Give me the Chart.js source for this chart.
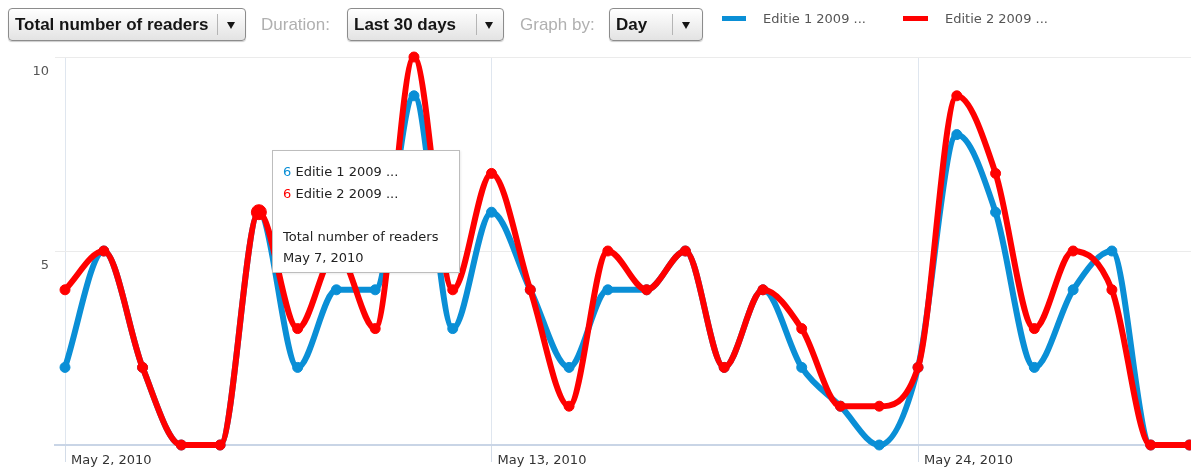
<!DOCTYPE html>
<html lang="en">
<head>
<meta charset="UTF-8" />
<title>Total number of readers</title>
<script src="https://cdn.jsdelivr.net/npm/chart.js@4"></script>
<style>
  html, body { margin: 0; padding: 0; background: #fff; }
  #wrap { position: relative; width: 1191px; height: 468px; overflow: hidden; }
  #chart { position: absolute; left: 0; top: 0; }
  .drop { position: absolute; top: 8px; height: 31px; border: 1px solid #8c8c8c; border-radius: 4px;
          background: linear-gradient(#ffffff, #e3e3e3); box-shadow: 0 1px 1px rgba(0,0,0,0.2);
          font: bold 17px "Liberation Sans", Arial, sans-serif; color: #151515; line-height: 31px; }
  .drop span { position: absolute; left: 6px; top: 0; }
  .drop .sep { position: absolute; top: 5px; width: 1px; height: 21px; background: #b5b5b5; }
  .drop .arr { position: absolute; top: 13px; width: 0; height: 0; border-left: 4.5px solid transparent;
               border-right: 4.5px solid transparent; border-top: 7px solid #151515; }
  .lbl { position: absolute; top: 8px; font: 17px "Liberation Sans", Arial, sans-serif; line-height: 33px; color: #b0b0b0; }
  .sw { position: absolute; top: 16px; height: 5px; }
  .lg { position: absolute; top: 10px; font: 13px "DejaVu Sans", sans-serif; line-height: 18px; color: #555; white-space: nowrap; }
  #tip { position: absolute; left: 272px; top: 150px; width: 176px; height: 111px; padding: 10px 0 0 10px;
         border: 1px solid #bdbdbd; background: #fff; font: 13px "DejaVu Sans", sans-serif; color: #222;
         line-height: 21.5px; white-space: nowrap; box-shadow: 1px 1px 2px rgba(0,0,0,0.08); }
</style>
</head>
<body>
<div id="wrap">
  <canvas id="chart" width="1191" height="468"></canvas>

  <div class="drop" style="left:8px; width:236px;"><span>Total number of readers</span><div class="sep" style="left:208px"></div><div class="arr" style="left:218px"></div></div>
  <div class="lbl" style="left:261px">Duration:</div>
  <div class="drop" style="left:347px; width:155px;"><span>Last 30 days</span><div class="sep" style="left:128px"></div><div class="arr" style="left:137px"></div></div>
  <div class="lbl" style="left:520px">Graph by:</div>
  <div class="drop" style="left:609px; width:92px;"><span>Day</span><div class="sep" style="left:62px"></div><div class="arr" style="left:72px"></div></div>

  <div class="sw" style="left:722px; width:24px; background:#0a8fd6"></div>
  <div class="lg" id="lg1" style="left:763px"></div>
  <div class="sw" style="left:903px; width:25px; background:#ff0000"></div>
  <div class="lg" id="lg2" style="left:945px"></div>

  <div id="tip"></div>
</div>

<script>
  // data
  const days = [
    "May 2, 2010", "May 3, 2010", "May 4, 2010", "May 5, 2010", "May 6, 2010",
    "May 7, 2010", "May 8, 2010", "May 9, 2010", "May 10, 2010", "May 11, 2010",
    "May 12, 2010", "May 13, 2010", "May 14, 2010", "May 15, 2010", "May 16, 2010",
    "May 17, 2010", "May 18, 2010", "May 19, 2010", "May 20, 2010", "May 21, 2010",
    "May 22, 2010", "May 23, 2010", "May 24, 2010", "May 25, 2010", "May 26, 2010",
    "May 27, 2010", "May 28, 2010", "May 29, 2010", "May 30, 2010", "May 31, 2010"
  ];
  const editie1 = [2, 5, 2, 0, 0, 6, 2, 4, 4, 9, 3, 6, 4, 2, 4, 4, 5, 2, 4, 2, 1, 0, 2, 8, 6, 2, 4, 5, 0, 0];
  const editie2 = [4, 5, 2, 0, 0, 6, 3, 5, 3, 10, 4, 7, 4, 1, 5, 4, 5, 2, 4, 3, 1, 1, 2, 9, 7, 3, 5, 4, 0, 0];
  const seriesNames = ["Editie 1 2009 ...", "Editie 2 2009 ..."];
  const xTickLabels = ["May 2, 2010", "May 13, 2010", "May 24, 2010"];
  const yTicks = [5, 10];
  const metric = "Total number of readers";
  const hoverDay = "May 7, 2010";

  const blue = "#0a8fd6";
  const red = "#ff0000";
  const hoverIdx = days.indexOf(hoverDay);

  document.getElementById("lg1").textContent = seriesNames[0];
  document.getElementById("lg2").textContent = seriesNames[1];
  document.getElementById("tip").innerHTML =
    '<span style="color:' + blue + '">' + editie1[hoverIdx] + '</span> ' + seriesNames[0] + '<br>' +
    '<span style="color:' + red + '">' + editie2[hoverIdx] + '</span> ' + seriesNames[1] + '<br><br>' +
    metric + '<br>' + hoverDay;

  const toPoints = vals => vals.map((v, i) => ({ x: i, y: v }));

  Chart.defaults.font.family = "'DejaVu Sans', sans-serif";
  Chart.defaults.font.size = 13;

  new Chart(document.getElementById("chart"), {
    type: "line",
    data: {
      datasets: [
        {
          label: seriesNames[1], data: toPoints(editie2), order: 0,
          borderColor: red, backgroundColor: red, pointBackgroundColor: red,
          pointRadius: c => c.dataIndex === hoverIdx ? 7.5 : 5
        },
        {
          label: seriesNames[0], data: toPoints(editie1), order: 1,
          borderColor: blue, backgroundColor: blue, pointBackgroundColor: blue
        }
      ]
    },
    options: {
      responsive: false,
      animation: false,
      events: [],
      clip: false,
      layout: { autoPadding: false, padding: { top: 57 } },
      plugins: { legend: { display: false }, tooltip: { enabled: false } },
      elements: {
        line: { borderWidth: 6, tension: 0.4, cubicInterpolationMode: "monotone", borderCapStyle: "round", borderJoinStyle: "round" },
        point: { radius: 5, borderWidth: 1, borderColor: "#ffffff" }
      },
      scales: {
        x: {
          type: "linear", min: -0.258, max: 29.04,
          afterBuildTicks: s => { s.ticks = xTickLabels.map(l => ({ value: days.indexOf(l) })); },
          afterFit: s => { s.height = 23; s.paddingLeft = 0; s.paddingRight = 0; },
          ticks: { callback: v => days[v], align: "start", labelOffset: 6, padding: -9, color: "#333", autoSkip: false, maxRotation: 0 },
          grid: { color: "#dfe6ef", tickLength: 17, tickColor: "#d3dce8" },
          border: { color: "#c9d5e6", width: 2 }
        },
        y: {
          min: 0, max: 10,
          afterFit: s => { s.width = 55; },
          afterBuildTicks: s => { s.ticks = [0].concat(yTicks).map(v => ({ value: v })); },
          ticks: { callback: v => v === 0 ? "" : v, labelOffset: 15, padding: 6, color: "#555" },
          grid: { drawTicks: false, color: c => (c.tick && c.tick.value === 0) ? "rgba(0,0,0,0)" : "#ebebeb" },
          border: { display: false }
        }
      }
    }
  });
</script>
</body>
</html>
